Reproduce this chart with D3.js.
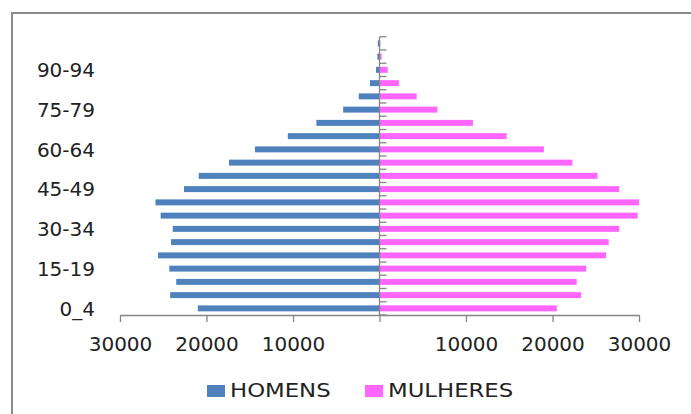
<!DOCTYPE html>
<html lang="pt">
<head>
    <meta charset="utf-8">
    <script src="https://d3js.org/d3.v7.min.js"></script>
    <style type="text/css">
        body {
            margin: 0;
            overflow: hidden;
            background: white;
        }
        text {
            font-family: "DejaVu Sans", sans-serif;
            fill: #222;
        }
    </style>
</head>
<body>
<svg id="chart"></svg>
<script type="text/javascript">
    var width = 691;
    var height = 414;

    // age groups, bottom to top
    var ages = ["0_4", "5-9", "10-14", "15-19", "20-24", "25-29", "30-34", "35-39",
        "40-44", "45-49", "50-54", "55-59", "60-64", "65-69", "70-74", "75-79",
        "80-84", "85-89", "90-94", "95-99", "100+"];

    var homens = [21000, 24200, 23500, 24300, 25600, 24100, 23900, 25300,
        25900, 22600, 20900, 17400, 14400, 10600, 7300, 4200,
        2400, 1100, 400, 250, 200];

    var mulheres = [20500, 23300, 22800, 23900, 26200, 26500, 27700, 29850,
        30000, 27700, 25200, 22300, 19000, 14700, 10800, 6700,
        4300, 2250, 950, 250, 100];

    var xTicks = [-30000, -20000, -10000, 0, 10000, 20000, 30000];
    var series = ["HOMENS", "MULHERES"];
    var colors = ["#4F81BD", "#FF66FF"];

    var svg = d3.select("#chart")
        .attr("width", width)
        .attr("height", height);

    // outer frame of the chart area
    svg.append("rect")
        .attr("x", 12)
        .attr("y", 13)
        .attr("width", 700)
        .attr("height", 420)
        .style("fill", "white")
        .style("stroke", "#8a8a8a")
        .style("stroke-width", 2);

    var x = d3.scaleLinear()
        .domain([-30000, 30000])
        .range([120, 639]);

    var pad = 0.55;
    var y = d3.scaleBand()
        .domain(ages)
        .range([315, 36.75])
        .paddingInner(pad)
        .paddingOuter(pad / 2);

    // bars
    svg.append("g").selectAll("rect")
        .data(homens)
        .join("rect")
        .attr("x", function(d) { return x(-d); })
        .attr("y", function(d, i) { return y(ages[i]); })
        .attr("width", function(d) { return x(0) - x(-d); })
        .attr("height", y.bandwidth())
        .style("fill", colors[0]);

    svg.append("g").selectAll("rect")
        .data(mulheres)
        .join("rect")
        .attr("x", x(0))
        .attr("y", function(d, i) { return y(ages[i]); })
        .attr("width", function(d) { return x(d) - x(0); })
        .attr("height", y.bandwidth())
        .style("fill", colors[1]);

    // x axis
    var xAxis = svg.append("g")
        .attr("transform", "translate(0,315)")
        .call(d3.axisBottom(x)
            .tickValues(xTicks)
            .tickFormat(function(d) { return d === 0 ? "" : Math.abs(d); })
            .tickSize(7)
            .tickSizeOuter(0)
            .tickPadding(15));
    xAxis.select(".domain").style("stroke", "#868686").style("stroke-width", 1.3);
    xAxis.selectAll(".tick line").style("stroke", "#868686").style("stroke-width", 1.3);
    xAxis.selectAll("text").style("font-size", "20px").style("fill", "#222");

    // vertical axis at zero with ticks between categories
    var step = y.step();
    var bounds = ages.map(function(a) { return y(a) + y.bandwidth() / 2 + step / 2; });
    bounds.push(y(ages[ages.length - 1]) + y.bandwidth() / 2 - step / 2);

    svg.append("line")
        .attr("x1", x(0)).attr("x2", x(0))
        .attr("y1", d3.min(bounds)).attr("y2", 315)
        .style("stroke", "#868686")
        .style("stroke-width", 1.3);

    svg.append("g").selectAll("line")
        .data(bounds)
        .join("line")
        .attr("x1", x(0)).attr("x2", x(0) + 7)
        .attr("y1", function(d) { return d; })
        .attr("y2", function(d) { return d; })
        .style("stroke", "#868686")
        .style("stroke-width", 1.3);

    // category labels, every third one
    svg.append("g").selectAll("text")
        .data(ages.filter(function(a, i) { return i % 3 === 0; }))
        .join("text")
        .attr("x", 95)
        .attr("y", function(d) { return y(d) + y.bandwidth() / 2; })
        .attr("dy", "0.36em")
        .attr("text-anchor", "end")
        .style("font-size", "20px")
        .text(function(d) { return d; });

    // legend
    var legendX = [207, 365];
    var legend = svg.append("g").selectAll("g")
        .data(series)
        .join("g")
        .attr("transform", function(d, i) { return "translate(" + legendX[i] + ",385)"; });

    legend.append("rect")
        .attr("width", 18)
        .attr("height", 12)
        .style("fill", function(d, i) { return colors[i]; });

    legend.append("text")
        .attr("transform", "translate(23,12) scale(1.2,1)")
        .style("font-size", "19px")
        .text(function(d) { return d; });
</script>
</body>
</html>
